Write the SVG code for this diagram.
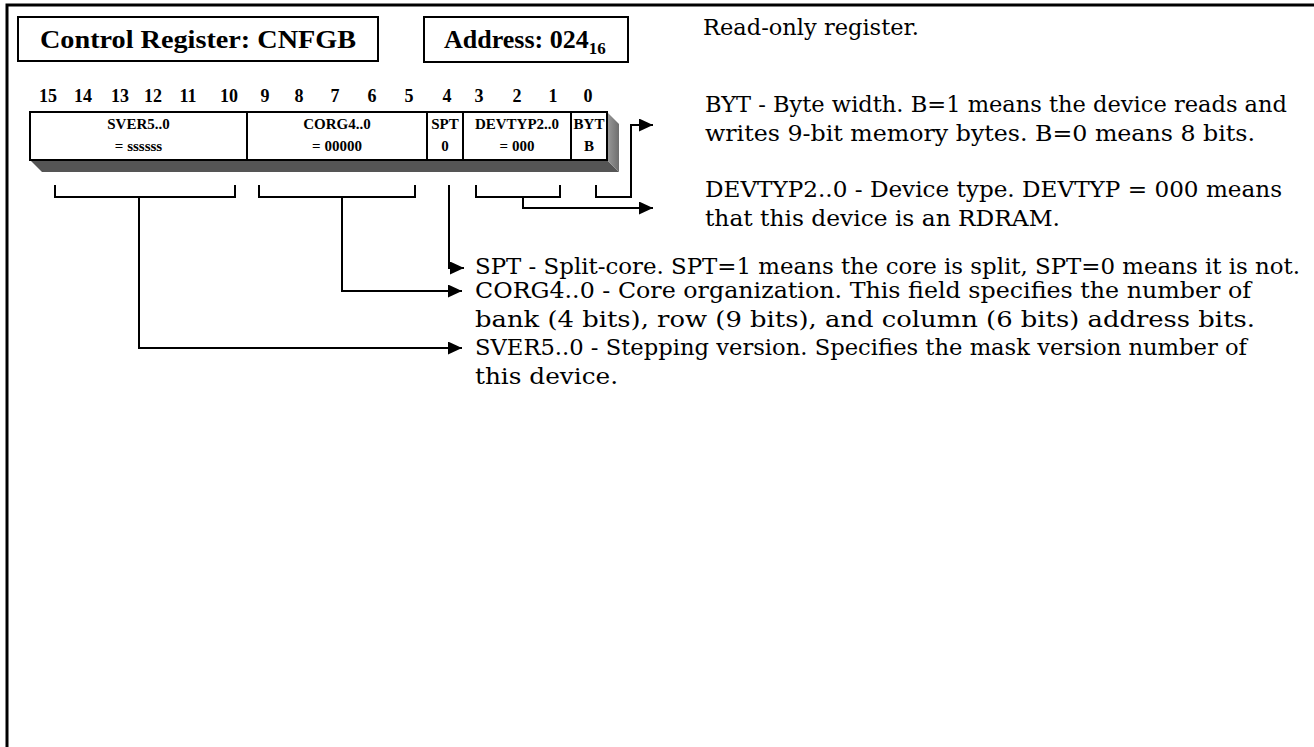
<svg xmlns="http://www.w3.org/2000/svg" width="1314" height="747" viewBox="0 0 1314 747">
<defs>
<style>
.hdr{font-family:"Liberation Serif","Times New Roman",serif;font-weight:bold;font-size:26px;fill:#000}
.bit{font-family:"Liberation Serif","Times New Roman",serif;font-weight:bold;font-size:18px;fill:#000;text-anchor:middle}
.fld{font-family:"Liberation Serif","Times New Roman",serif;font-weight:bold;font-size:15px;fill:#000;text-anchor:middle}
.txt{font-family:"DejaVu Serif","Liberation Serif",serif;font-size:22px;fill:#000}
.box{fill:#fff;stroke:#000;stroke-width:2}
.ln{fill:none;stroke:#000;stroke-width:2}
</style>
<marker id="ah" viewBox="0 0 14 13" refX="14" refY="6.5" markerWidth="14" markerHeight="13" markerUnits="userSpaceOnUse" orient="auto">
<path d="M0,0 L14,6.5 L0,13 z" fill="#000"/>
</marker>
<linearGradient id="side" x1="0" y1="0" x2="1" y2="0">
<stop offset="0" stop-color="#9a9a9a"/>
<stop offset="1" stop-color="#6e6e6e"/>
</linearGradient>
</defs>
<rect width="1314" height="747" fill="#fff"/>
<path d="M7,747 V5 H1314" fill="none" stroke="#000" stroke-width="3"/>

<g id="title">
<rect class="box" x="18" y="17" width="360" height="44"/>
<text class="hdr" x="198" y="48" text-anchor="middle" textLength="316" lengthAdjust="spacingAndGlyphs">Control Register: CNFGB</text>
</g>
<g id="address">
<rect class="box" x="424" y="17" width="204" height="45"/>
<text class="hdr" x="444" y="48">Address: 024<tspan font-size="17" dy="6">16</tspan></text>
</g>

<g id="readonly">
<text class="txt" x="703" y="35" textLength="216" lengthAdjust="spacingAndGlyphs">Read-only register.</text>
</g>

<g id="bitnumbers">
<text class="bit" x="48" y="102">15</text>
<text class="bit" x="83" y="102">14</text>
<text class="bit" x="120" y="102">13</text>
<text class="bit" x="153" y="102">12</text>
<text class="bit" x="188" y="102">11</text>
<text class="bit" x="229" y="102">10</text>
<text class="bit" x="265" y="102">9</text>
<text class="bit" x="299" y="102">8</text>
<text class="bit" x="335" y="102">7</text>
<text class="bit" x="372" y="102">6</text>
<text class="bit" x="409" y="102">5</text>
<text class="bit" x="447" y="102">4</text>
<text class="bit" x="479" y="102">3</text>
<text class="bit" x="517" y="102">2</text>
<text class="bit" x="553" y="102">1</text>
<text class="bit" x="588" y="102">0</text>
</g>

<g id="register">
<polygon points="30,160 607,160 619,172 42,172" fill="#555"/>
<polygon points="607,112 619,124 619,172 607,160" fill="url(#side)"/>
<rect class="box" x="30" y="112" width="577" height="48"/>
<line class="ln" x1="247" y1="112" x2="247" y2="160"/>
<line class="ln" x1="427" y1="112" x2="427" y2="160"/>
<line class="ln" x1="463" y1="112" x2="463" y2="160"/>
<line class="ln" x1="571" y1="112" x2="571" y2="160"/>
</g>
<g id="f-sver">
<text class="fld" x="138.5" y="129">SVER5..0</text>
<text class="fld" x="138.5" y="151">= ssssss</text>
</g>
<g id="f-corg">
<text class="fld" x="337" y="129">CORG4..0</text>
<text class="fld" x="337" y="151">= 00000</text>
</g>
<g id="f-spt">
<text class="fld" x="445" y="129">SPT</text>
<text class="fld" x="445" y="151">0</text>
</g>
<g id="f-devtyp">
<text class="fld" x="517" y="129">DEVTYP2..0</text>
<text class="fld" x="517" y="151">= 000</text>
</g>
<g id="f-byt">
<text class="fld" x="589" y="129">BYT</text>
<text class="fld" x="589" y="151">B</text>
</g>

<g id="connectors">
<path class="ln" d="M596,185 V197 H631 V125 H653" marker-end="url(#ah)"/>
<path class="ln" d="M476,185 V197 H560 V185"/>
<path class="ln" d="M523,197 V208 H653" marker-end="url(#ah)"/>
<path class="ln" d="M449,185 V268 H464" marker-end="url(#ah)"/>
<path class="ln" d="M259,185 V197 H415 V185"/>
<path class="ln" d="M342,197 V291 H462" marker-end="url(#ah)"/>
<path class="ln" d="M55,185 V197 H235 V185"/>
<path class="ln" d="M139,197 V348 H462" marker-end="url(#ah)"/>
</g>

<g id="d-byt">
<text class="txt" x="705" y="112" textLength="582" lengthAdjust="spacingAndGlyphs">BYT - Byte width. B=1 means the device reads and</text>
<text class="txt" x="705" y="141" textLength="550" lengthAdjust="spacingAndGlyphs">writes 9-bit memory bytes. B=0 means 8 bits.</text>
</g>
<g id="d-devtyp">
<text class="txt" x="705" y="197" textLength="577" lengthAdjust="spacingAndGlyphs">DEVTYP2..0 - Device type. DEVTYP = 000 means</text>
<text class="txt" x="705" y="226" textLength="355" lengthAdjust="spacingAndGlyphs">that this device is an RDRAM.</text>
</g>
<g id="d-spt">
<text class="txt" x="475" y="274" textLength="825" lengthAdjust="spacingAndGlyphs">SPT - Split-core. SPT=1 means the core is split, SPT=0 means it is not.</text>
</g>
<g id="d-corg">
<text class="txt" x="475" y="298" textLength="776" lengthAdjust="spacingAndGlyphs">CORG4..0 - Core organization. This field specifies the number of</text>
<text class="txt" x="475" y="327" textLength="780" lengthAdjust="spacingAndGlyphs">bank (4 bits), row (9 bits), and column (6 bits) address bits.</text>
</g>
<g id="d-sver">
<text class="txt" x="475" y="355" textLength="772" lengthAdjust="spacingAndGlyphs">SVER5..0 - Stepping version. Specifies the mask version number of</text>
<text class="txt" x="475" y="384" textLength="143" lengthAdjust="spacingAndGlyphs">this device.</text>
</g>
</svg>
